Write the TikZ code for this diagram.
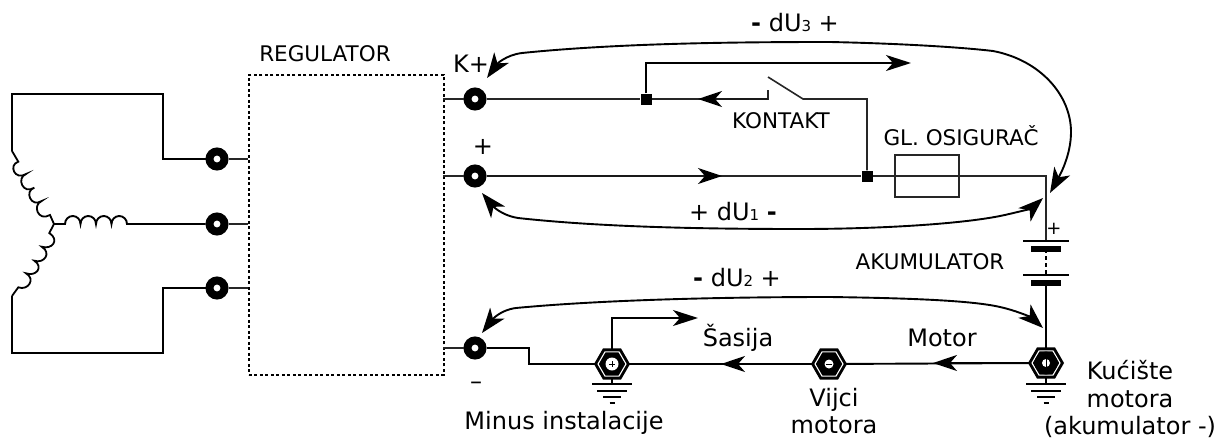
\documentclass[tikz,border=0pt]{standalone}
\usepackage{fontspec}
\setmainfont{DejaVu Sans}
\usetikzlibrary{arrows.meta,shapes.geometric}
\tikzset{
  wire/.style={line width=1.9pt,draw=black},
  thinwire/.style={line width=1.6pt,draw=black!90,arrows={-{Stealth[length=24pt,width=16pt,inset=7pt,color=black]}}},
  plainwire/.style={line width=1.6pt,draw=black!85},
  flow/.style={wire,-{Stealth[length=25pt,width=16pt,inset=7pt]}},
  midflow/.style={-{Stealth[length=24pt,width=16pt,inset=7pt]}},
  both/.style={wire,{Stealth[length=25pt,width=18pt,inset=7pt]}-{Stealth[length=25pt,width=18pt,inset=7pt]}},
  terminal/.style={circle,draw=black,fill=white,line width=8pt,minimum size=15pt,inner sep=0pt},
  junction/.style={rectangle,fill=black,minimum size=11pt,inner sep=0pt},
  hexa/.style={regular polygon,regular polygon sides=6,fill=black,minimum size=36pt,inner sep=0pt},
  hexb/.style={regular polygon,regular polygon sides=6,draw=white,line width=1.1pt,minimum size=28pt,inner sep=0pt},
  disc/.style={circle,fill=black,inner sep=0pt},
  hole/.style={circle,fill=white,inner sep=0pt},
  lbl/.style={inner sep=0pt,font=\fontsize{24}{27.5}\selectfont,text=black},
  lbls/.style={inner sep=0pt,font=\fontsize{21.5}{25}\selectfont,text=black},
  plate/.style={line width=2.6pt},
  thickplate/.style={line width=6pt},
}
\newcommand{\sm}[1]{{\fontsize{15}{17}\selectfont #1}}
\begin{document}
\begin{tikzpicture}[x=1pt,y=-1pt]
\useasboundingbox (0,0) rectangle (1230,439);
% regulator
\node[draw,line width=1.6pt,minimum width=195pt,minimum height=300pt,inner sep=0pt,anchor=north west,dash pattern=on 3pt off 2.5pt] (reg) at (248,74) {};
\coordinate (rA) at (248,159); \coordinate (rB) at (248,224); \coordinate (rC) at (248,288);
\coordinate (rK) at (443,99); \coordinate (rP) at (443,176); \coordinate (rM) at (443,348);
% terminals
\node[terminal] (tA) at (217,159) {};
\node[terminal] (tB) at (217,224) {};
\node[terminal] (tC) at (217,288) {};
\node[terminal] (tK) at (475,99) {};
\node[terminal] (tP) at (475,176) {};
\node[terminal] (tM) at (475,348) {};
% generator
\coordinate (star) at (54,224);
\coordinate (ca) at (12,151); \coordinate (cc) at (12,296); \coordinate (cb) at (127,224);
\draw[wire] (ca) -- (12,94) -- (163,94) -- (163,159) -- (tA);
\draw[wire] (cc) -- (12,353) -- (163,353) -- (163,288) -- (tC);
\draw[wire] (star) -- (65,224)
  arc[start angle=180,end angle=0,x radius=7.75pt,y radius=8pt]
  arc[start angle=180,end angle=0,x radius=7.75pt,y radius=8pt]
  arc[start angle=180,end angle=0,x radius=7.75pt,y radius=8pt]
  arc[start angle=180,end angle=0,x radius=7.75pt,y radius=8pt] -- (tB);
\draw[line width=1.8pt] (ca) -- (18.3,161.7)
  .. controls (8,165) and (15,181) .. (26,174)
  .. controls (16,178) and (23,195) .. (34.3,187.7)
  .. controls (24,191) and (31,208) .. (41.7,201)
  .. controls (32,205) and (38,222) .. (50,215) -- (star);
\draw[line width=1.8pt] (cc) -- (18.3,287.3)
  .. controls (28,291) and (36,279) .. (26,273.3)
  .. controls (36,277) and (44,267) .. (34.3,260.7)
  .. controls (44,264) and (52,253) .. (41.7,246.7)
  .. controls (52,250) and (60,240) .. (49.3,233) -- (star);
\draw[plainwire] (tA) -- (rA); \draw[plainwire] (tB) -- (rB); \draw[plainwire] (tC) -- (rC);
\draw[plainwire] (rK) -- (tK); \draw[plainwire] (rP) -- (tP); \draw[plainwire] (rM) -- (tM);
% positive network
\node[junction] (j1) at (646,99) {};
\node[junction] (j2) at (867,176) {};
\node[draw=black!85,line width=1.5pt,minimum width=64pt,minimum height=42pt,inner sep=0pt] (fuse) at (927,176) {};
\coordinate (sw1) at (768,99); \coordinate (sw1t) at (768,90);
\coordinate (sw2) at (803,99); \coordinate (blade) at (768,77);
\coordinate (batTop) at (1046,241);
\coordinate (a1) at (698,99);
\coordinate (a2) at (722,176);
\coordinate (a3) at (911,63);
\draw[plainwire] (tK) -- (j1) -- (sw1) -- (sw1t);
\draw[plainwire] (blade) -- (sw2) -- (867,99) -- (j2);
\draw[thinwire] (sw1) -- (a1);
\draw[plainwire] (tP) -- (j2) -- (fuse.west) -- (fuse.east) -- (1046,176) -- (batTop);
\draw[thinwire] (tP) -- (a2);
\draw[flow] (j1) -- (646,63) -- (a3);
% battery
\coordinate (p1l) at (1023,241); \coordinate (p1r) at (1069,241);
\coordinate (p2l) at (1031,249); \coordinate (p2r) at (1061,249);
\coordinate (p3l) at (1023,275); \coordinate (p3r) at (1069,275);
\coordinate (p4l) at (1031,283); \coordinate (p4r) at (1061,283);
\draw[plate] (p1l) -- (p1r); \draw[thickplate] (p2l) -- (p2r);
\draw[plate] (p3l) -- (p3r); \draw[thickplate] (p4l) -- (p4r);
\draw[line width=1.6pt,dash pattern=on 4pt off 3pt] (p2l -| batTop) -- (p3l -| batTop);
% bolts
\coordinate (b1) at (612,364); \coordinate (b2) at (829,364); \coordinate (b3) at (1046,363);
\draw[wire] (p4l -| batTop) -- (b3);
\draw[wire] (tM) -- (529,348) -- (529,364) -- (b1);
\draw[wire] (b1) -- (b2) -- (b3);
\draw[wire,midflow] (b3) -- (933,363);
\draw[wire,midflow] (b2) -- (721,364);
\draw[flow] (b1) -- (612,318) -- (698,318);
% grounds
\foreach \x [count=\i] in {612,1046}{
  \draw[wire] (\x,364) -- (\x,384);
  \draw[wire] (\x-20,384) -- (\x+20,384);
  \draw[wire] (\x-15,391) -- (\x+15,391);
  \draw[wire] (\x-9,397) -- (\x+9,397);
  \draw[line width=2pt] (\x-2.5,403) -- (\x+2.5,403);
}
\node[hexa] (hb1) at (b1) {}; \node[hexb] at (b1) {};
\node[disc,minimum size=18pt] at (b1) {};
\node[hole,minimum size=13pt] at (b1) {};
\draw[line width=.8pt] (b1)+(-3,0) -- +(3,0) (b1)+(0,-3) -- +(0,3);
\node[hexa] (hb2) at (b2) {}; \node[hexb] at (b2) {};
\node[disc,minimum size=20pt] at (b2) {};
\node[hole,minimum size=9pt] at (b2) {};
\draw[line width=.8pt] (b2)+(-3,0) -- +(3,0);
\node[hexa] (hb3) at (b3) {}; \node[hexb] at (b3) {};
\node[disc,minimum size=23pt] at (b3) {};
\node[hole,minimum size=8pt] at (b3) {};
\draw[line width=1pt] (b3) -- +(0,4) (b3) -- +(0,-4);
% voltage arcs
\coordinate (u3a) at (1050,193); \coordinate (u3b) at (487,78);
\coordinate (u1a) at (1043,198); \coordinate (u1b) at (482,193);
\coordinate (u2a) at (1043,328); \coordinate (u2b) at (482,333);
\draw[both]
  (u3b) .. controls (497,64) and (506,55) .. (522,53)
  .. controls (620,43) and (740,42) .. (830,42)
  .. controls (880,43) and (950,46) .. (993,51)
  .. controls (1040,60) and (1071,95) .. (1071,132)
  .. controls (1071,155) and (1060,175) .. (u3a);
\draw[both]
  (u1b) .. controls (492,205) and (500,215) .. (518,218)
  .. controls (600,227) and (700,229) .. (800,229)
  .. controls (880,229) and (960,224) .. (1000,216)
  .. controls (1015,213) and (1032,208) .. (u1a);
\draw[both]
  (u2b) .. controls (492,320) and (500,310) .. (516,308)
  .. controls (600,300) and (720,297) .. (830,297)
  .. controls (900,298) and (970,300) .. (1000,307)
  .. controls (1018,311) and (1032,318) .. (u2a);
% labels
\node[lbls] (lreg) at (325,54) {REGULATOR};
\node[lbl] (lk) at (471,64) {K+};
\node[lbl] (lp) at (483,147) {+};
\node[lbl] (lm) at (476,386) {--};
\node[lbls] (lkon) at (781,121) {KONTAKT};
\node[lbls] (lfu) at (961,136) {GL. OSIGURAČ};
\node[lbls] (lak) at (930,262) {AKUMULATOR};
\node[inner sep=0pt,font=\fontsize{18}{22}\selectfont] (lpb) at (1054,229) {+};
\node[lbl] (ld3) at (795,23) {\textbf{-} dU\sm{3} +};
\node[lbl] (ld1) at (733,212) {+ dU\sm{1} \textbf{-}};
\node[lbl] (ld2) at (737,278) {\textbf{-} dU\sm{2} +};
\node[lbl] (lsas) at (738,338) {Šasija};
\node[lbl] (lmot) at (942,338) {Motor};
\node[lbl] (lmin) at (564,423) {Minus instalacije};
\node[lbl,align=center] (lvij) at (834,411) {Vijci\\motora};
\node[lbl,align=center] (lkuc) at (1130,399) {Kućište\\motora\\(akumulator -)};
\end{tikzpicture}
\end{document}
